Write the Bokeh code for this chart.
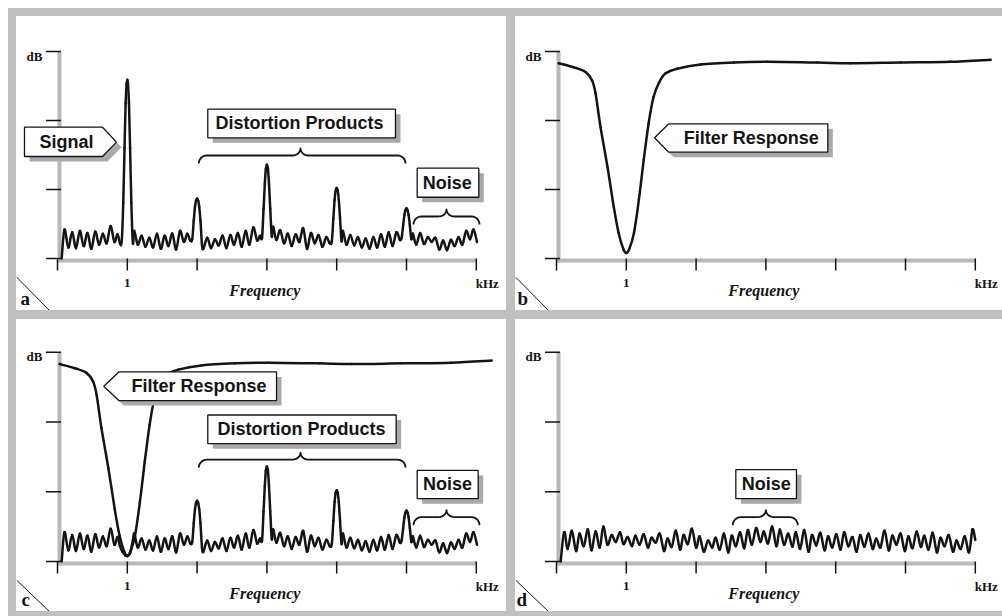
import numpy as np
from bokeh.plotting import figure
from bokeh.layouts import column, row
from bokeh.models import Div, Range1d, Label, PolyAnnotation
from bokeh.embed import file_html
from bokeh.resources import INLINE

# ---------------- data ----------------
x_ticks = [0, 1, 2, 3, 4, 5, 6]
x_tick_labels = ["", "1", "", "", "", "", ""]
y_ticks = [0, 1, 2, 3]

# noise floor / peaks of the spectrum (panels a and c)
seg0_x = [0.06, 0.10, 0.155, 0.21, 0.265, 0.32, 0.375, 0.43, 0.485, 0.54, 0.595, 0.65, 0.705, 0.76, 0.815, 0.86, 0.895]
seg0_y = [0.00, 0.42, 0.16, 0.38, 0.15, 0.40, 0.18, 0.37, 0.14, 0.39, 0.20, 0.36, 0.22, 0.47, 0.24, 0.35, 0.22]
signal_x = [0.92, 0.942, 0.96, 0.976, 0.99, 1.0, 1.01, 1.024, 1.04, 1.058, 1.08]
signal_y = [0.25, 0.80, 1.60, 2.25, 2.53, 2.59, 2.53, 2.25, 1.60, 0.80, 0.22]
notch_x = [0.93, 0.97, 1.00, 1.04, 1.08]
notch_y = [0.14, 0.09, 0.08, 0.12, 0.30]
seg1_x = [1.10, 1.15, 1.205, 1.26, 1.315, 1.37, 1.425, 1.48, 1.535, 1.59, 1.645, 1.70, 1.755, 1.81, 1.86, 1.90]
seg1_y = [0.40, 0.20, 0.33, 0.17, 0.30, 0.16, 0.36, 0.14, 0.33, 0.18, 0.36, 0.13, 0.40, 0.24, 0.36, 0.26]
peak2_x = [1.93, 1.952, 1.97, 1.985, 2.0, 2.015, 2.03, 2.048, 2.07]
peak2_y = [0.28, 0.55, 0.75, 0.84, 0.87, 0.84, 0.75, 0.55, 0.20]
seg2_x = [2.09, 2.145, 2.20, 2.255, 2.31, 2.365, 2.42, 2.475, 2.53, 2.585, 2.64, 2.695, 2.75, 2.805, 2.86, 2.90]
seg2_y = [0.14, 0.30, 0.15, 0.28, 0.19, 0.33, 0.15, 0.34, 0.20, 0.37, 0.17, 0.40, 0.20, 0.45, 0.26, 0.33]
peak3_x = [2.93, 2.952, 2.97, 2.985, 3.0, 3.015, 3.03, 3.048, 3.07]
peak3_y = [0.30, 0.72, 1.08, 1.30, 1.36, 1.30, 1.08, 0.72, 0.32]
seg3_x = [3.09, 3.135, 3.19, 3.245, 3.30, 3.355, 3.41, 3.465, 3.52, 3.575, 3.63, 3.685, 3.74, 3.795, 3.85, 3.90]
seg3_y = [0.46, 0.27, 0.41, 0.22, 0.36, 0.18, 0.35, 0.24, 0.44, 0.14, 0.37, 0.22, 0.34, 0.17, 0.31, 0.22]
peak4_x = [3.93, 3.952, 3.97, 3.985, 4.0, 4.015, 4.03, 4.048, 4.07]
peak4_y = [0.25, 0.58, 0.85, 0.98, 1.02, 0.98, 0.85, 0.58, 0.25]
seg4_x = [4.09, 4.14, 4.195, 4.25, 4.305, 4.36, 4.415, 4.47, 4.525, 4.58, 4.635, 4.69, 4.745, 4.80, 4.855, 4.905]
seg4_y = [0.40, 0.20, 0.34, 0.19, 0.31, 0.16, 0.29, 0.14, 0.31, 0.16, 0.35, 0.17, 0.38, 0.18, 0.38, 0.27]
peak5_x = [4.93, 4.952, 4.97, 4.985, 5.0, 5.015, 5.03, 5.048, 5.07]
peak5_y = [0.30, 0.48, 0.63, 0.70, 0.73, 0.70, 0.63, 0.48, 0.28]
seg5_x = [5.09, 5.14, 5.195, 5.25, 5.305, 5.36, 5.415, 5.47, 5.525, 5.58, 5.635, 5.69, 5.745, 5.80, 5.855, 5.91, 5.96, 6.01]
seg5_y = [0.36, 0.20, 0.37, 0.21, 0.31, 0.24, 0.30, 0.13, 0.26, 0.12, 0.27, 0.18, 0.31, 0.20, 0.40, 0.28, 0.42, 0.24]

# filter response (panels b and c)
filter_x = [0.03, 0.25, 0.42, 0.51, 0.56, 0.63, 0.73, 0.82, 0.89, 0.96, 1.00, 1.04, 1.11, 1.18, 1.25,
            1.32, 1.39, 1.47, 1.56, 1.73, 2.06, 2.54, 3.02, 3.74, 4.21, 4.93, 5.64, 6.22]
filter_y = [2.83, 2.77, 2.70, 2.58, 2.39, 1.91, 1.33, 0.75, 0.37, 0.13, 0.08, 0.13, 0.37, 0.85, 1.43,
            1.96, 2.34, 2.55, 2.68, 2.75, 2.81, 2.84, 2.85, 2.84, 2.83, 2.84, 2.85, 2.88]

# noise only (panel d)
noise_x = [0.06, 0.11, 0.16, 0.22, 0.28, 0.33, 0.39, 0.45, 0.50, 0.56,
           0.62, 0.67, 0.73, 0.79, 0.85, 0.91, 0.96, 1.02, 1.08, 1.13,
           1.19, 1.25, 1.31, 1.36, 1.42, 1.48, 1.54, 1.59, 1.65, 1.71,
           1.77, 1.82, 1.88, 1.94, 2.00, 2.05, 2.11, 2.17, 2.23, 2.28,
           2.34, 2.40, 2.46, 2.51, 2.57, 2.63, 2.69, 2.74, 2.80, 2.86,
           2.92, 2.97, 3.03, 3.09, 3.15, 3.20, 3.26, 3.32, 3.38, 3.43,
           3.49, 3.55, 3.61, 3.66, 3.72, 3.78, 3.84, 3.89, 3.95, 4.01,
           4.07, 4.12, 4.18, 4.24, 4.30, 4.35, 4.41, 4.47, 4.53, 4.58,
           4.64, 4.70, 4.76, 4.81, 4.87, 4.93, 4.99, 5.04, 5.10, 5.16,
           5.22, 5.27, 5.33, 5.39, 5.45, 5.50, 5.56, 5.62, 5.68, 5.73,
           5.79, 5.85, 5.91, 5.96, 6.00]
noise_y = [0.00, 0.42, 0.18, 0.44, 0.15, 0.40, 0.22, 0.46, 0.16, 0.43,
           0.20, 0.50, 0.24, 0.38, 0.28, 0.42, 0.25, 0.35, 0.22, 0.37,
           0.24, 0.39, 0.20, 0.34, 0.27, 0.40, 0.15, 0.33, 0.21, 0.44,
           0.17, 0.38, 0.25, 0.47, 0.20, 0.36, 0.14, 0.30, 0.20, 0.34,
           0.17, 0.40, 0.13, 0.37, 0.22, 0.42, 0.19, 0.45, 0.24, 0.48,
           0.28, 0.43, 0.26, 0.50, 0.22, 0.46, 0.24, 0.40, 0.21, 0.42,
           0.18, 0.45, 0.14, 0.38, 0.23, 0.41, 0.16, 0.36, 0.20, 0.39,
           0.17, 0.42, 0.22, 0.35, 0.14, 0.38, 0.21, 0.40, 0.18, 0.33,
           0.20, 0.44, 0.16, 0.37, 0.24, 0.40, 0.15, 0.36, 0.19, 0.43,
           0.21, 0.37, 0.17, 0.41, 0.13, 0.34, 0.22, 0.38, 0.14, 0.30,
           0.18, 0.36, 0.13, 0.46, 0.31]

spectrum_a_x = seg0_x + signal_x + seg1_x + peak2_x + seg2_x + peak3_x + seg3_x + peak4_x + seg4_x + peak5_x + seg5_x
spectrum_a_y = seg0_y + signal_y + seg1_y + peak2_y + seg2_y + peak3_y + seg3_y + peak4_y + seg4_y + peak5_y + seg5_y
spectrum_c_x = seg0_x + notch_x + seg1_x + peak2_x + seg2_x + peak3_x + seg3_x + peak4_x + seg4_x + peak5_x + seg5_x
spectrum_c_y = seg0_y + notch_y + seg1_y + peak2_y + seg2_y + peak3_y + seg3_y + peak4_y + seg4_y + peak5_y + seg5_y

# ---------------- style ----------------
BAND = "#c0c0c0"
AXIS_GRAY = "#b8b8b8"
SHADOW = "#a9a9a9"
INK = "#141414"
SERIF = "Liberation Serif"
SANS = "Liberation Sans"
PX_X = 69.8        # pixels per x unit
LEFT_PX = 41       # space left of the y axis inside a panel
TXT_SHIFT = 5      # baseline correction for labels (px)


def make_panel(w, h, bottom_px, unit_y_px):
    sx, sy = PX_X, unit_y_px
    p = figure(width=w, height=h,
               x_range=Range1d(-LEFT_PX / sx, (w - LEFT_PX) / sx),
               y_range=Range1d(-bottom_px / sy, (h - bottom_px) / sy),
               x_axis_type=None, y_axis_type=None,
               output_backend="svg", toolbar_location=None, min_border=0)
    p.outline_line_color = None
    p.background_fill_color = "white"
    p.border_fill_color = "white"
    sh_x, sh_y = 2 / sx, 2 / sy
    # axis rules (grey, slightly offset like a shadow)
    p.segment(x0=[sh_x, 0], y0=[-sh_y - 2 / sy, -sh_y], x1=[sh_x, x_ticks[-1]], y1=[y_ticks[-1], -sh_y],
              line_color=AXIS_GRAY, line_width=4)
    # ticks
    p.ray(x=[sh_x + 1.5 / sx] * len(y_ticks), y=y_ticks, length=15, length_units="screen",
          angle=np.pi, line_color=INK, line_width=1.5)
    p.ray(x=x_ticks, y=[0] * len(x_ticks), length=12, length_units="screen",
          angle=-np.pi / 2, line_color=INK, line_width=1.5)
    for xt, lab in zip(x_ticks, x_tick_labels):
        if lab:
            p.add_layout(Label(x=xt, y=0, y_offset=-29.5 + TXT_SHIFT, text=lab, text_align="center",
                               text_baseline="alphabetic", text_font=SERIF, text_font_style="bold",
                               text_font_size="13px", text_color=INK))
    p.add_layout(Label(x=0, y=y_ticks[-1], x_offset=-15, y_offset=-9.5 + TXT_SHIFT, text="dB",
                       text_align="right", text_baseline="alphabetic", text_font=SERIF,
                       text_font_style="bold", text_font_size="13px", text_color=INK))
    p.add_layout(Label(x=x_ticks[-1], y=0, x_offset=11, y_offset=-29.5 + TXT_SHIFT, text="kHz",
                       text_align="center", text_baseline="alphabetic", text_font=SERIF,
                       text_font_style="bold", text_font_size="13px", text_color=INK))
    p.add_layout(Label(x=3, y=0, x_offset=-2, y_offset=-37 + TXT_SHIFT, text="Frequency",
                       text_align="center", text_baseline="alphabetic", text_font=SERIF,
                       text_font_style="bold italic", text_font_size="16px", text_color=INK))
    return p, sx, sy


def curve(p, xs, ys):
    # smooth curve through the read points (cubic Bezier pieces)
    x = np.asarray(xs, float)
    y = np.asarray(ys, float)
    xp = np.concatenate([[x[0]], x, [x[-1]]])
    yp = np.concatenate([[y[0]], y, [y[-1]]])
    n = len(x)
    x0, x1, x2, x3 = xp[0:n - 1], xp[1:n], xp[2:n + 1], xp[3:n + 2]
    y0, y1, y2, y3 = yp[0:n - 1], yp[1:n], yp[2:n + 1], yp[3:n + 2]
    p.bezier(x0=x1, y0=y1, x1=x2, y1=y2,
             cx0=x1 + (x2 - x0) / 6, cy0=y1 + (y2 - y0) / 6,
             cx1=x2 - (x3 - x1) / 6, cy1=y2 - (y3 - y1) / 6,
             line_color=INK, line_width=2.5, line_cap="round")


def corner(p, letter, sx, sy, xoff, bottom_px):
    p.segment(x0=[-41 / sx], y0=[-18.5 / sy], x1=[-6 / sx], y1=[-(bottom_px + 2) / sy],
              line_color=INK, line_width=1)
    p.add_layout(Label(x=0, y=0, x_offset=xoff, y_offset=-(bottom_px - 12), text=letter, text_align="left",
                       text_baseline="middle", text_font=SERIF, text_font_style="bold",
                       text_font_size="19px", text_color=INK))


def callout(p, txt, x0, x1, y0, y1, tx, ty, sx, sy, tip=None):
    if tip is None:
        xs, ys = [x0, x1, x1, x0], [y1, y1, y0, y0]
    elif tip[0] > x1:
        xs, ys = [x0, x1, tip[0], x1, x0], [y1, y1, tip[1], y0, y0]
    else:
        xs, ys = [tip[0], x0, x1, x1, x0], [tip[1], y1, y1, y0, y0]
    dx, dy = 5 / sx, 5 / sy
    p.add_layout(PolyAnnotation(xs=[v + dx for v in xs], ys=[v - dy for v in ys],
                                fill_color=SHADOW, fill_alpha=1, line_color=None))
    p.add_layout(PolyAnnotation(xs=xs, ys=ys, fill_color="white", fill_alpha=1,
                                line_color=INK, line_alpha=1, line_width=1.3))
    p.add_layout(Label(x=tx, y=ty, text=txt, text_align="center", text_baseline="middle",
                       text_font=SANS, text_font_style="bold", text_font_size="18px", text_color=INK))


def brace(p, x0, x1, yf, xc, sx, sy, drop=8, rise=7, r=8):
    dx, dd, hh = r / sx, drop / sy, rise / sy
    t = np.linspace(0, np.pi / 2, 8)

    def half(xe):
        s = 1 if xc > xe else -1
        hx = xe + s * dx * (1 - np.cos(t))
        hy = yf - dd * (1 - np.sin(t))
        cx = xc - s * dx + s * dx * np.sin(t)
        cy = yf + hh * (1 - np.cos(t))
        return np.concatenate([hx, cx]), np.concatenate([hy, cy])

    lx, ly = half(x0)
    rx, ry = half(x1)
    p.line(np.concatenate([lx, rx[::-1]]), np.concatenate([ly, ry[::-1]]),
           line_color=INK, line_width=1.8, line_join="round")


# ---------------- panel a ----------------
pa, sxa, sya = make_panel(490, 294, 52, 69.0)
curve(pa, spectrum_a_x, spectrum_a_y)
brace(pa, 2.024, 4.986, 1.493, 3.481, sxa, sya)
brace(pa, 5.10, 6.046, 0.609, 5.573, sxa, sya)
callout(pa, "Signal", -0.473, 0.645, 1.478, 1.903, 0.129, 1.688, sxa, sya, tip=(0.845, 1.686))
callout(pa, "Distortion Products", 2.153, 4.842, 1.749, 2.164, 3.467, 1.957, sxa, sya)
callout(pa, "Noise", 5.153, 6.036, 0.888, 1.309, 5.583, 1.101, sxa, sya)
corner(pa, "a", sxa, sya, -37, 52)

# ---------------- panel b ----------------
pb, sxb, syb = make_panel(487, 294, 52, 69.0)
curve(pb, filter_x, filter_y)
callout(pb, "Filter Response", 1.609, 3.887, 1.541, 1.952, 2.791, 1.743, sxb, syb, tip=(1.404, 1.749))
corner(pb, "b", sxb, syb, -39, 52)

# ---------------- panel c ----------------
pc, sxc, syc = make_panel(490, 292, 50, 69.77)
curve(pc, filter_x, filter_y)
curve(pc, spectrum_c_x, spectrum_c_y)
brace(pc, 2.024, 4.986, 1.46, 3.481, sxc, syc)
brace(pc, 5.10, 6.046, 0.636, 5.573, sxc, syc)
callout(pc, "Filter Response", 0.878, 3.138, 2.307, 2.717, 2.027, 2.512, sxc, syc, tip=(0.663, 2.512))
callout(pc, "Distortion Products", 2.153, 4.852, 1.689, 2.10, 3.496, 1.895, sxc, syc)
callout(pc, "Noise", 5.153, 6.027, 0.90, 1.306, 5.587, 1.105, sxc, syc)
corner(pc, "c", sxc, syc, -36, 50)

# ---------------- panel d ----------------
pd_, sxd, syd = make_panel(487, 292, 50, 69.77)
curve(pd_, noise_x, noise_y)
brace(pd_, 2.526, 3.457, 0.636, 3.0, sxd, syd)
callout(pd_, "Noise", 2.569, 3.438, 0.90, 1.316, 3.004, 1.105, sxd, syd)
corner(pd_, "d", sxd, syd, -40, 50)


def band(w, h):
    return Div(width=w, height=h, margin=0, styles={"background-color": BAND})


layout = column(
    band(994, 8),
    row(band(8, 294), pa, band(9, 294), pb, spacing=0),
    band(994, 9),
    row(band(8, 292), pc, band(9, 292), pd_, spacing=0),
    band(994, 5),
    spacing=0,
    margin=(8, 0, 0, 8),
)

open("out.html", "w").write(file_html(layout, INLINE))
